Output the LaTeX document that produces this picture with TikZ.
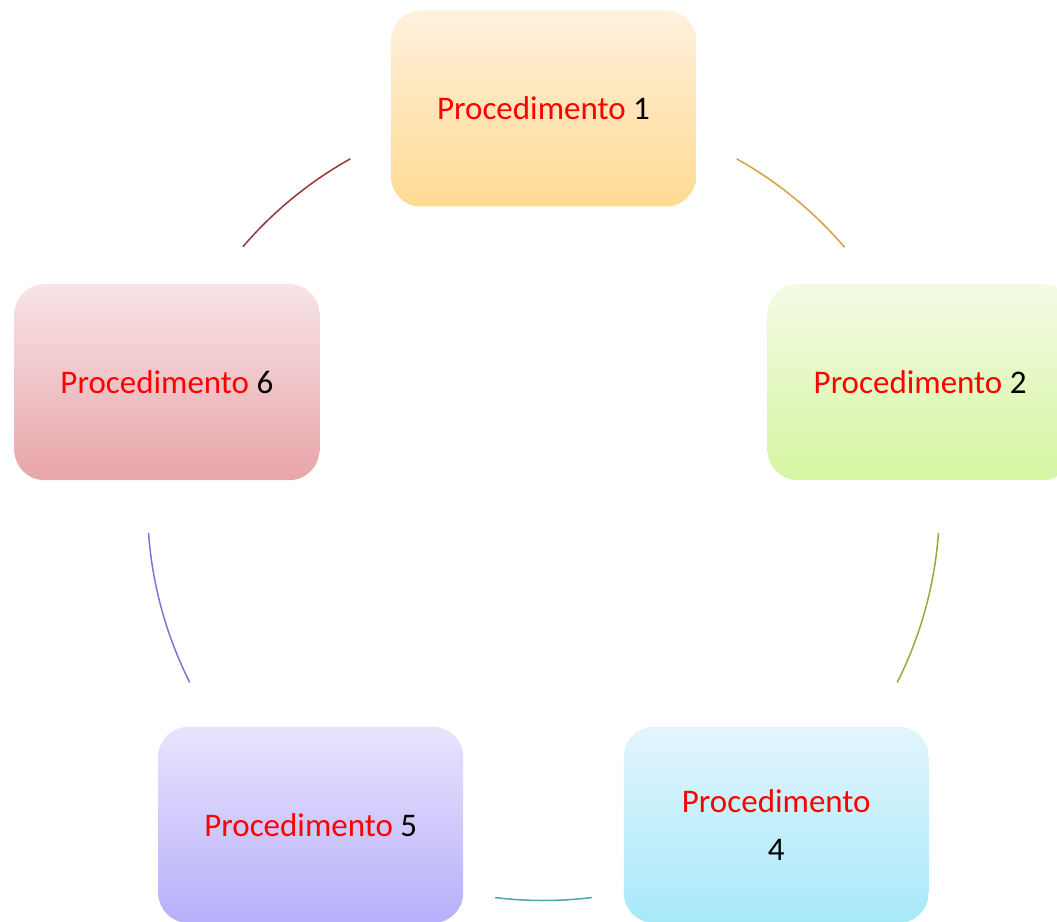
\documentclass[tikz,border=0pt]{standalone}
\usepackage{fontspec}
\setmainfont{Carlito}
\usepackage{tikz}
\usetikzlibrary{calc,positioning}
\definecolor{arcgold}{HTML}{D4A040}
\definecolor{arcolive}{HTML}{8CAE3E}
\definecolor{arcteal}{HTML}{4AA5B4}
\definecolor{arcviolet}{HTML}{8074D2}
\definecolor{arcbrick}{HTML}{953735}
\tikzset{
    passo/.style={
           rectangle,
           rounded corners=15pt,
           draw=none,
           minimum width=152.5pt,
           minimum height=98pt,
           inner sep=0pt,
           align=center,
           font=\fontsize{16.5}{23.75}\selectfont},
    elo/.style={
           line width=0.75pt}
}
\newcommand{\proc}[1]{\textcolor{red}{Procedimento} #1}

\begin{document}
\begin{tikzpicture}[x=0.5pt, y=0.5pt]
        \useasboundingbox (-543.5,-417.5) rectangle (513.5,504.5);
        \node[passo, top color={rgb,255:red,255;green,241;blue,222}, bottom color={rgb,255:red,255;green,218;blue,145}] (p1) at (90:396)  {\proc{1}};
        \node[passo, top color={rgb,255:red,243;green,251;blue,228}, bottom color={rgb,255:red,214;green,245;blue,160}] (p2) at (18:396)  {\proc{2}};
        \node[passo, top color={rgb,255:red,226;green,245;blue,253}, bottom color={rgb,255:red,168;green,233;blue,249}] (p4) at (-54:396) {\textcolor{red}{Procedimento}\\4};
        \node[passo, top color={rgb,255:red,232;green,228;blue,253}, bottom color={rgb,255:red,183;green,175;blue,250}] (p5) at (-126:396) {\proc{5}};
        \node[passo, top color={rgb,255:red,248;green,228;blue,230}, bottom color={rgb,255:red,231;green,165;blue,169}] (p6) at (162:396) {\proc{6}};

        \coordinate (e12) at (60.8:396);
        \coordinate (e24) at (-4.1:396);
        \coordinate (e45) at (-83:396);
        \coordinate (e56) at (206.7:396);
        \coordinate (e61) at (139.4:396);

        \draw[elo, arcgold]   (e12) arc[start angle=60.8, end angle=40.5, radius=396];
        \draw[elo, arcolive]  (e24) arc[start angle=-4.1, end angle=-26.7, radius=396];
        \draw[elo, arcteal]   (e45) arc[start angle=-83, end angle=-97, radius=396];
        \draw[elo, arcviolet] (e56) arc[start angle=206.7, end angle=184.1, radius=396];
        \draw[elo, arcbrick]  (e61) arc[start angle=139.4, end angle=119.2, radius=396];
    \end{tikzpicture}
\end{document}
